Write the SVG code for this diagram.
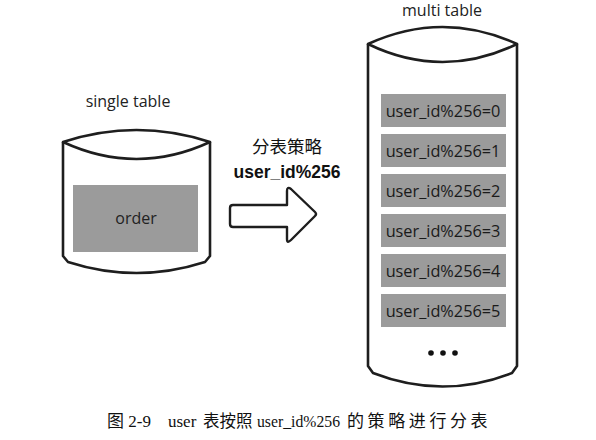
<svg xmlns="http://www.w3.org/2000/svg" width="596" height="440" viewBox="0 0 596 440">
<style>
.cyl{fill:#fff;stroke:#1e1e1e;stroke-width:2.6;stroke-linejoin:round}
.cell{fill:#9b9b9b}
.lbl{font-family:"Open Sans","Liberation Sans",sans-serif;font-size:16px;fill:#222;text-anchor:middle}
.row{font-family:"Open Sans","Liberation Sans",sans-serif;font-size:16.3px;fill:#1a1a1a;text-anchor:middle}
.strat{font-family:"Liberation Sans","Noto Sans CJK SC",sans-serif;font-size:17.5px;fill:#111;text-anchor:middle}
.cap{font-family:"Liberation Serif","Noto Sans CJK SC",serif;font-size:17px;fill:#111}
</style>
<rect width="596" height="440" fill="#fff"/>
<g id="single-table">
<path class="cyl" d="M63,142 L63,256 L68,262 Q136.5,284 205,262 L210,256 L210,142"/>
<path class="cyl" fill="none" d="M63,142 Q136.5,118 210,142 Q136.5,176 63,142 Z"/>
<rect class="cell" x="73" y="185" width="125" height="67"/>
<text class="lbl" x="136" y="224" font-size="15.5">order</text>
<text class="lbl" x="128" y="107">single table</text>
</g>
<g id="multi-table">
<path class="cyl" d="M368,44 L368,366 L373,373 Q442.5,400 512,373 L517,366 L517,44"/>
<path class="cyl" d="M368,44 Q442.5,10 517,44 Q442.5,80 368,44 Z"/>
<text class="lbl" x="442" y="16">multi table</text>
<rect class="cell" x="381" y="94" width="125" height="33"/>
<text class="row" x="443" y="117">user_id%256=0</text>
<rect class="cell" x="381" y="134" width="125" height="33"/>
<text class="row" x="443" y="157">user_id%256=1</text>
<rect class="cell" x="381" y="174" width="125" height="33"/>
<text class="row" x="443" y="197">user_id%256=2</text>
<rect class="cell" x="381" y="214" width="125" height="33"/>
<text class="row" x="443" y="237">user_id%256=3</text>
<rect class="cell" x="381" y="254" width="125" height="33"/>
<text class="row" x="443" y="277">user_id%256=4</text>
<rect class="cell" x="381" y="294" width="125" height="33"/>
<text class="row" x="443" y="317">user_id%256=5</text>
<circle cx="431" cy="353" r="2.8" fill="#111"/>
<circle cx="443" cy="353" r="2.8" fill="#111"/>
<circle cx="455" cy="353" r="2.8" fill="#111"/>
</g>
<g id="connectors">
<path d="M233,205 L287,205 L287,191 Q287,186 291,189 L315,212 Q317,214 315,216 L291,240 Q287,244 287,239 L287,227 L233,227 Q230,227 230,224 L230,208 Q230,205 233,205 Z" fill="#fff" stroke="#1e1e1e" stroke-width="2.4" stroke-linejoin="round"/>
<text class="strat" x="287" y="153">分表策略</text>
<text class="strat" x="287" y="178" font-weight="bold">user_id%256</text>
</g>
<text class="cap" x="107" y="427">图 2-9<tspan x="168">user</tspan><tspan x="203" font-size="16.5">表按照</tspan><tspan x="257" textLength="83" lengthAdjust="spacingAndGlyphs">user_id%256</tspan><tspan x="347" letter-spacing="3.6">的策略进行分表</tspan></text>
</svg>
